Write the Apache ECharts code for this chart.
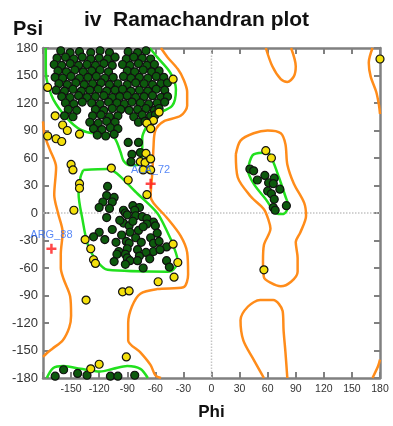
<!DOCTYPE html>
<html>
<head>
<meta charset="utf-8">
<script src="https://cdn.jsdelivr.net/npm/echarts@6/dist/echarts.min.js"></script>
<style>
  html, body { margin: 0; padding: 0; background: #fff; }
  #chart { width: 393px; height: 426px; }
</style>
</head>
<body>
<div id="chart"></div>
<script>
// [phi, psi] in degrees
const betaCore = [
  [-161,177],[-151,175],[-141,176],[-129,175],[-119,177],[-109,175],[-89,176],[-79,175],[-70,177],
  [-165,169],[-156,170],[-147,168],[-138,170],[-129,168],[-120,169],[-111,168],[-103,170],[-91,168],[-83,170],[-74,169],[-65,168],
  [-168,162],[-160,161],[-151,163],[-142,161],[-133,162],[-124,161],[-115,163],[-106,161],[-95,162],[-87,161],[-78,163],[-69,161],[-61,162],
  [-164,155],[-155,154],[-146,156],[-137,154],[-128,155],[-119,156],[-110,154],[-90,155],[-82,154],[-73,156],[-64,154],[-56,155],
  [-167,148],[-159,147],[-150,149],[-141,147],[-132,148],[-123,149],[-114,147],[-105,148],[-94,149],[-86,147],[-77,148],[-68,147],[-59,149],[-51,148],
  [-163,141],[-154,140],[-145,142],[-136,140],[-127,141],[-118,142],[-109,140],[-100,141],[-90,140],[-81,142],[-72,141],[-63,140],[-54,141],[-47,142],
  [-166,134],[-157,133],[-148,135],[-139,133],[-130,134],[-121,135],[-112,133],[-103,134],[-95,135],[-86,133],[-77,134],[-68,133],[-59,135],[-50,134],
  [-160,127],[-151,126],[-142,128],[-133,126],[-124,127],[-115,128],[-106,126],[-98,127],[-90,128],[-81,126],[-72,127],[-63,128],[-54,126],[-47,127],
  [-156,120],[-147,119],[-138,121],[-128,120],[-119,119],[-110,121],[-101,120],[-93,119],[-85,121],[-76,120],[-67,119],[-58,120],[-50,121],
  [-153,113],[-144,112],[-124,113],[-115,112],[-106,114],[-97,113],[-88,112],[-79,113],[-70,114],[-61,112],[-56,114],
  [-157,106],[-148,105],[-127,106],[-118,107],[-109,105],[-100,106],[-83,105],[-74,107],[-65,106],[-60,107],
  [-130,99],[-121,98],[-112,100],[-103,99],[-78,99],[-71,100],
  [-126,92],[-117,91],[-108,93],[-100,92],
  [-122,85],[-113,84],[-104,86]
];
const alphaCore = [
  [-111,29],[-112,19],[-104,17],[-106,12],[-116,12],[-120,6],[-109,5],[-112,-5],[-94,3],[-92,0],
  [-84,8],[-77,6],[-82,3],[-90,-2],[-81,-3],[-74,-4],[-69,-6],[-62,-10],[-94,-11],[-88,-14],
  [-60,-14],[-69,-12],[-87,-21],[-78,-19],[-58,-22],[-81,-27],[-65,-27],[-120,-21],[-126,-26],[-114,-29],
  [-102,-32],[-91,-31],[-88,-33],[-75,-32],[-62,-33],[-56,-31],[-48,-37],[-99,-42],[-90,-39],[-79,-40],
  [-62,-42],[-55,-40],[-92,-45],[-101,-45],[-70,-43],[-77,-47],[-90,-49],[-104,-53],[-87,-52],[-79,-52],
  [-48,-52],[-92,-56],[-73,-60],[-45,-59],[-98,-8],[-84,-9],[-73,-15],[-96,-24],[-106,-18],[-66,-50]
];
const otherCore = [
  [-89,77],[-78,77],[-85,64],[-86,56],[-76,66],
  [41,48],[45,46],[57,41],[49,36],[67,38],[61,33],[66,32],[60,24],[73,26],[64,21],[67,15],[66,6],[68,3],[80,8],
  [-167,-178],[-158,-171],[-143,-175],[-133,-177],[-108,-178],[-100,-178],[-82,-177]
];
const allowedPts = [
  [-175,137],[-167,106],[-159,96],[-154,90],[-141,86],[-175,84],[-166,81],[-160,78],
  [-41,146],[-56,110],[-62,101],[-69,98],[-65,92],
  [-150,53],[-148,47],[-107,49],[-141,32],[-141,27],[-89,36],[-70,65],[-76,56],[-71,55],[-65,59],[-73,47],[-65,47],[-69,20],
  [-147,3],[-135,-29],[-129,-39],[-126,-51],[-124,-55],[-41,-34],[-36,-54],[-57,-75],[-40,-70],[-95,-86],[-88,-85],[-134,-95],
  [-91,-157],[-120,-165],[-129,-170],
  [58,68],[64,60],[56,-62],[180,168]
];
const outlierNames = ['ALA_72', 'ARG_88'];
const outlierPts = [[-65,32],[-171,-39]];

// contour lines: orange = allowed, green = favoured
const orangeLeftA = [[-54,180],[-47,170],[-36,157],[-30,146],[-26,132],[-26,117],[-33,106],[-51,100],[-60,90],[-62,71],[-63,47],[-65,18],[-62,11],[-47,-6],[-33,-25],[-26,-43],[-25,-67],[-30,-81],[-58,-83],[-76,-88],[-85,-102],[-89,-120],[-89,-139],[-76,-152],[-65,-166],[-60,-177],[-54,-180]];
const orangeLeftB = [[-180,100],[-178,84],[-173,70],[-166,50],[-168,20],[-164,0],[-159,-21],[-161,-45],[-161,-60],[-158,-72],[-151,-91],[-150,-112],[-152,-125],[-159,-139],[-170,-148],[-176,-153],[-180,-157]];
const orangeMidLoop = [[26,64],[31,79],[45,87],[60,90],[74,87],[79,75],[81,53],[88,32],[99,11],[101,-3],[95,-21],[90,-32],[92,-49],[92,-64],[85,-75],[74,-80],[63,-76],[56,-70],[55,-53],[56,-35],[63,-17],[61,-8],[56,4],[42,18],[28,39],[26,64]];
const orangeTopLoop = [[58,180],[65,160],[74,146],[81,143],[88,149],[90,160],[85,180]];
const orangeBottomLoop = [[56,-180],[45,-160],[34,-139],[31,-117],[39,-102],[52,-95],[66,-95],[76,-107],[77,-128],[79,-152],[81,-180]];
const orangeEdgeTop = [[172,180],[168,164],[170,149],[176,132],[179,117],[180,108]];
const orangeEdgeBottom = [[172,-180],[178,-167],[180,-160]];
const greenBeta = [[-177,180],[-177,160],[-176,145],[-169,124],[-154,103],[-140,91],[-125,87],[-111,87],[-103,81],[-97,66],[-94,57],[-87,52],[-76,53],[-74,68],[-74,82],[-69,95],[-62,106],[-42,117],[-38,135],[-44,153],[-58,170],[-66,180]];
const greenBetaBottom = [[-176,-180],[-169,-169],[-158,-167],[-140,-170],[-119,-173],[-105,-170],[-90,-167],[-76,-170],[-68,-180]];
const greenAlpha = [[-137,47],[-111,48],[-101,43],[-79,21],[-58,0],[-47,-21],[-41,-35],[-36,-53],[-41,-62],[-47,-64],[-111,-62],[-122,-53],[-132,-35],[-138,-6],[-142,21],[-140,39],[-137,47]];
const greenLeftHanded = [[40,53],[45,64],[60,66],[65,58],[72,39],[79,18],[82,8],[77,-1],[71,-1],[58,15],[45,32],[39,47],[40,53]];

const zeroV = [[0,-180],[0,180]];
const zeroH = [[-180,0],[180,0]];

const chart = echarts.init(document.getElementById('chart'));

function contour(data, color) {
  return {
    type: 'line',
    data: data,
    showSymbol: false,
    smooth: 0.3,
    silent: true,
    lineStyle: { color: color, width: 2.5 },
    z: 2
  };
}

function dots(data, fill) {
  return {
    type: 'scatter',
    data: data,
    symbolSize: 8,
    itemStyle: { color: fill, borderColor: '#111', borderWidth: 1.2, opacity: 1 },
    z: 3
  };
}

const axisCommon = {
  type: 'value',
  min: -180,
  max: 180,
  interval: 30,
  axisLine: { show: true, onZero: false, lineStyle: { color: '#808080', width: 2.5 } },
  axisTick: { show: true, inside: true, length: 6, lineStyle: { color: '#808080', width: 2 } },
  splitLine: { show: false }
};

const option = {
  animation: false,
  title: {
    text: 'iv  Ramachandran plot',
    left: 'center',
    top: 5,
    textStyle: { fontFamily: 'Liberation Sans', fontSize: 21, fontWeight: 'bold', color: '#111' }
  },
  grid: { left: 43, right: 13, top: 48, bottom: 40 },
  xAxis: [
    Object.assign({}, axisCommon, {
      position: 'bottom',
      name: 'Phi',
      nameLocation: 'middle',
      nameGap: 26,
      nameTextStyle: { fontFamily: 'Liberation Sans', fontSize: 17, fontWeight: 'bold', color: '#111' },
      axisLabel: {
        fontFamily: 'Liberation Sans', fontSize: 10.5, color: '#333', margin: 6,
        formatter: v => (v === -180 ? '' : String(v))
      }
    }),
    Object.assign({}, axisCommon, { position: 'top', axisLabel: { show: false } })
  ],
  yAxis: [
    Object.assign({}, axisCommon, {
      position: 'left',
      name: 'Psi',
      nameLocation: 'end',
      nameGap: 9,
      nameTextStyle: { fontFamily: 'Liberation Sans', fontSize: 20, fontWeight: 'bold', color: '#111', align: 'right' },
      axisLabel: { fontFamily: 'Liberation Sans', fontSize: 13, color: '#333', margin: 5 }
    }),
    Object.assign({}, axisCommon, { position: 'right', axisLabel: { show: false } })
  ],
  series: [
    {
      type: 'line', data: zeroV, showSymbol: false, silent: true, z: 1,
      lineStyle: { color: '#c4c4c4', width: 1.5, type: 'dotted' }
    },
    {
      type: 'line', data: zeroH, showSymbol: false, silent: true, z: 1,
      lineStyle: { color: '#c4c4c4', width: 1.5, type: 'dotted' }
    },
    contour(orangeLeftA, '#ff8c1a'),
    contour(orangeLeftB, '#ff8c1a'),
    contour(orangeMidLoop, '#ff8c1a'),
    contour(orangeTopLoop, '#ff8c1a'),
    contour(orangeBottomLoop, '#ff8c1a'),
    contour(orangeEdgeTop, '#ff8c1a'),
    contour(orangeEdgeBottom, '#ff8c1a'),
    contour(greenBeta, '#22e01e'),
    contour(greenBetaBottom, '#22e01e'),
    contour(greenAlpha, '#22e01e'),
    contour(greenLeftHanded, '#22e01e'),
    dots(betaCore, '#0d5a0d'),
    dots(alphaCore, '#0d5a0d'),
    dots(otherCore, '#0d5a0d'),
    dots(allowedPts, '#f4e00c'),
    {
      type: 'scatter',
      data: outlierPts.map((p, i) => ({ name: outlierNames[i], value: p })),
      symbol: 'path://M3,0H5V3H8V5H5V8H3V5H0V3H3Z',
      symbolSize: 10,
      itemStyle: { color: '#ff1a1a' },
      z: 4,
      label: {
        show: true,
        position: 'top',
        distance: 3,
        formatter: '{b}',
        fontFamily: 'Liberation Sans',
        fontSize: 11,
        color: '#2f6cf5'
      }
    }
  ]
};

chart.setOption(option);
</script>
</body>
</html>
